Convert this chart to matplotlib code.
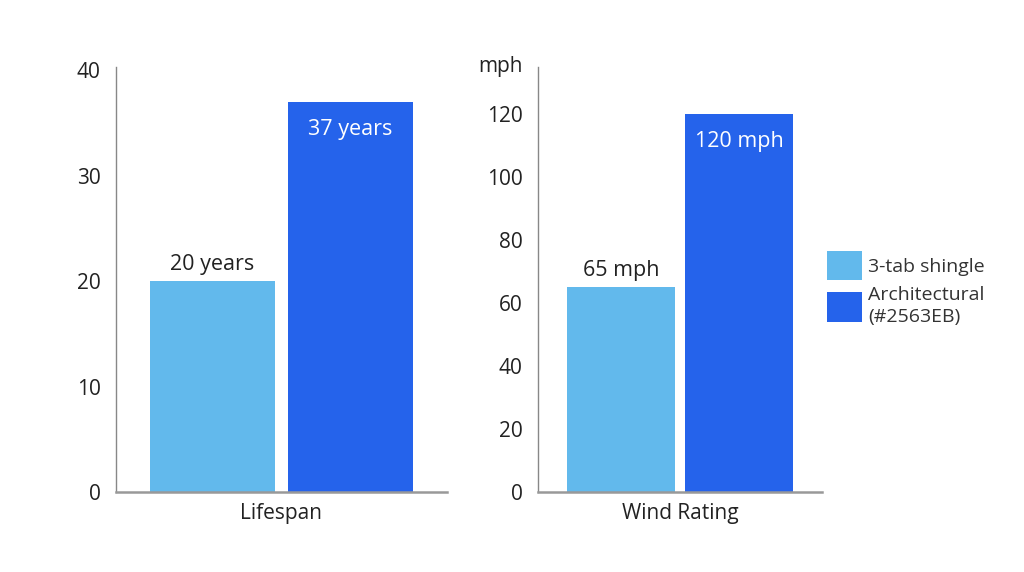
import matplotlib.pyplot as plt

plt.rcParams['font.family'] = ['Open Sans', 'DejaVu Sans']

series = ['3-tab shingle', 'Architectural\n(#2563EB)']
colors = ['#62B9EC', '#2563EB']

lifespan = [20, 37]
lifespan_labels = ['20 years', '37 years']
wind = [65, 120]
wind_labels = ['65 mph', '120 mph']

fig = plt.figure(figsize=(10.24, 5.72), dpi=100)
ax1 = fig.add_axes([0.1133, 0.1399, 0.323, 0.743])
ax2 = fig.add_axes([0.5254, 0.1399, 0.2773, 0.743])


def desenha(ax, valores, rotulos, ymax, yticks, xlabel):
    barras = ax.bar([0, 1], valores, width=0.91, color=colors, label=series)
    ax.set_xlim(-0.70, 1.70)
    ax.set_ylim(0, ymax)
    ax.set_yticks(yticks)
    ax.set_xticks([])
    ax.tick_params(axis='y', length=0, pad=11, labelsize=15, colors='#222222')
    for s in ['top', 'right']:
        ax.spines[s].set_visible(False)
    ax.spines['left'].set_color('#888888')
    ax.spines['left'].set_linewidth(1.0)
    ax.spines['bottom'].set_color('#999999')
    ax.spines['bottom'].set_linewidth(1.8)
    ax.set_xlabel(xlabel, fontsize=15, color='#222222', labelpad=8)
    # rotulo do menor fora, do maior dentro
    ax.annotate(rotulos[0], (0, valores[0]), xytext=(0, 12), textcoords='offset points',
                ha='center', va='center', fontsize=15.5, color='#222222')
    ax.annotate(rotulos[1], (1, valores[1]), xytext=(0, -20), textcoords='offset points',
                ha='center', va='center', fontsize=15.5, color='white')
    return barras


desenha(ax1, lifespan, lifespan_labels, 40.3, [0, 10, 20, 30, 40], 'Lifespan')
barras = desenha(ax2, wind, wind_labels, 135, [0, 20, 40, 60, 80, 100, 120], 'Wind Rating')
ax2.text(-0.055, 1.002, 'mph', transform=ax2.transAxes, ha='right', va='center',
         fontsize=15, color='#222222')

leg = fig.legend(barras, series, loc='upper left', bbox_to_anchor=(0.791, 0.592),
                 frameon=False, fontsize=14, handlelength=1.75, handleheight=1.95,
                 handletextpad=0.35, labelspacing=0.3, labelcolor='#333333')
leg.get_texts()[1].set_linespacing(1.3)

fig.savefig('out.png', dpi=100)
